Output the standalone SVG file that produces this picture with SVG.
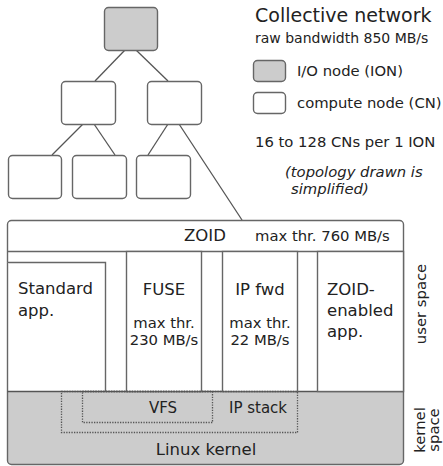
<svg xmlns="http://www.w3.org/2000/svg" width="443" height="466" viewBox="0 0 443 466">
<style>
text{font-family:"DejaVu Sans","Liberation Sans",sans-serif;fill:#222}
.node{fill:#fff;stroke:#666;stroke-width:1.4}
.ion{fill:#ccc;stroke:#666;stroke-width:1.4}
.edge{stroke:#555;stroke-width:1.3;fill:none}
.box{fill:#fff;stroke:#666;stroke-width:1.4}
.dot{fill:none;stroke:#555;stroke-width:1.3;stroke-dasharray:1.3 1.3}
.t19{font-size:19px}.t16{font-size:16.5px}.t15{font-size:15px}.t14{font-size:14.8px}.t13{font-size:14px}
.mid{text-anchor:middle}
</style>
<g id="connectors">
<line class="edge" x1="125" y1="50" x2="95" y2="81"/>
<line class="edge" x1="136" y1="50" x2="168" y2="81"/>
<line class="edge" x1="83" y1="124" x2="52" y2="155"/>
<line class="edge" x1="94" y1="124" x2="115" y2="155"/>
<line class="edge" x1="168" y1="124" x2="148" y2="155"/>
<line class="edge" x1="179" y1="124" x2="242" y2="220"/>
</g>
<g id="ion"><rect class="ion" x="104.5" y="7.5" width="53" height="43" rx="4"/></g>
<g id="cn-mid-left"><rect class="node" x="61.5" y="81.5" width="54" height="43" rx="4"/></g>
<g id="cn-mid-right"><rect class="node" x="147.5" y="81.5" width="54" height="43" rx="4"/></g>
<g id="cn-bot-1"><rect class="node" x="8.5" y="155.5" width="53" height="43" rx="4"/></g>
<g id="cn-bot-2"><rect class="node" x="72.5" y="155.5" width="54" height="43" rx="4"/></g>
<g id="cn-bot-3"><rect class="node" x="136.5" y="155.5" width="54" height="43" rx="4"/></g>
<g id="legend">
<text class="t19" x="255" y="22">Collective network</text>
<text class="t13" x="255" y="43">raw bandwidth 850 MB/s</text>
<rect class="ion" x="253.5" y="60.5" width="32" height="21" rx="4"/>
<text class="t14" x="297" y="76">I/O node (ION)</text>
<rect class="node" x="253.5" y="92.5" width="32" height="21" rx="4"/>
<text class="t14" x="297" y="108">compute node (CN)</text>
<text class="t14" x="255" y="147">16 to 128 CNs per 1 ION</text>
<text class="t14" x="285" y="177" font-style="italic">(topology drawn is</text>
<text class="t14" x="291" y="194" font-style="italic">simplified)</text>
</g>
<g id="ion-stack">
<rect x="7.5" y="220.5" width="396" height="244" rx="4" fill="#fff"/>
<path d="M7.5 391.5 H403.5 V460.5 A4 4 0 0 1 399.5 464.5 H11.5 A4 4 0 0 1 7.5 460.5 Z" fill="#ccc"/>
<rect x="7.5" y="220.5" width="396" height="244" rx="4" fill="none" stroke="#666" stroke-width="1.4"/>
<line x1="7.5" y1="251.5" x2="403.5" y2="251.5" stroke="#666" stroke-width="1.4"/>
<line x1="7.5" y1="391.5" x2="403.5" y2="391.5" stroke="#555" stroke-width="1.4"/>
<text class="t16" x="184" y="241">ZOID</text>
<text class="t14" x="255" y="241">max thr. 760 MB/s</text>
</g>
<g id="standard-app">
<path class="box" d="M7.5 262.5 H105.5 V391.5"/>
<text class="t16" x="18" y="294">Standard</text>
<text class="t16" x="18" y="316">app.</text>
</g>
<g id="fuse">
<rect class="box" x="126.5" y="251.5" width="75" height="140"/>
<text class="t16 mid" x="164" y="295">FUSE</text>
<text class="t14 mid" x="164" y="328">max thr.</text>
<text class="t14 mid" x="164" y="345">230 MB/s</text>
</g>
<g id="ip-fwd">
<rect class="box" x="222.5" y="251.5" width="75" height="140"/>
<text class="t16 mid" x="260" y="295">IP fwd</text>
<text class="t14 mid" x="260" y="328">max thr.</text>
<text class="t14 mid" x="260" y="345">22 MB/s</text>
</g>
<g id="zoid-app">
<rect class="box" x="317.5" y="251.5" width="86" height="140"/>
<text class="t16" x="327" y="295">ZOID-</text>
<text class="t16" x="327" y="316">enabled</text>
<text class="t16" x="327" y="337">app.</text>
</g>
<g id="kernel">
<rect class="dot" x="61.5" y="391.5" width="236" height="41"/>
<rect class="dot" x="82.5" y="391.5" width="130" height="31"/>
<text class="t15 mid" x="163" y="413">VFS</text>
<text class="t15 mid" x="258" y="413">IP stack</text>
<text class="t16 mid" x="206" y="455">Linux kernel</text>
</g>
<g id="space-labels">
<text class="t14 mid" transform="translate(426 304) rotate(-90)">user space</text>
<text class="t14 mid" transform="translate(425 430) rotate(-90)">kernel</text>
<text class="t14 mid" transform="translate(439 430) rotate(-90)">space</text>
</g>
</svg>
